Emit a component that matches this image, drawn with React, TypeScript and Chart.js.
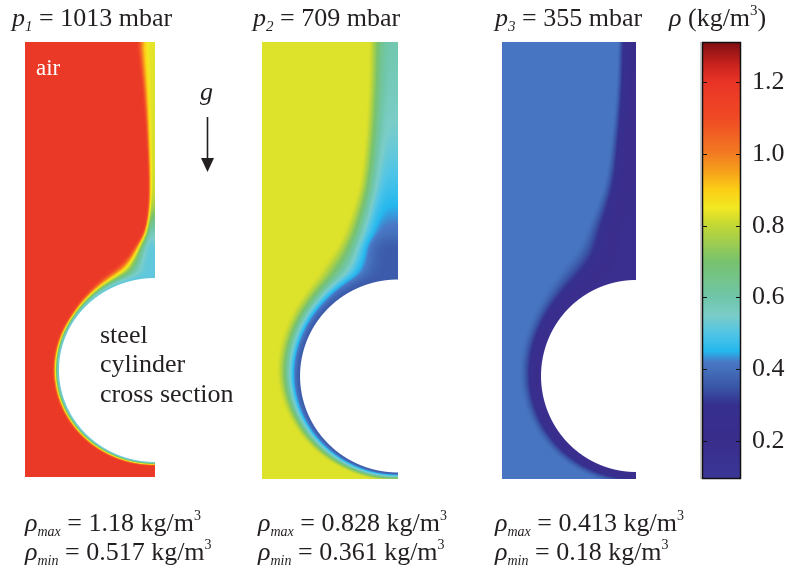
import { useEffect, useRef } from "react";
import { Chart, registerables } from "chart.js";

Chart.register(...registerables);

// ---------- data ----------
const panelPressures = [1013, 709, 355]; // mbar
const panelRhoMax = [1.18, 0.828, 0.413]; // kg/m^3
const panelRhoMin = [0.517, 0.361, 0.18]; // kg/m^3

const colorbarTicks = [0.2, 0.4, 0.6, 0.8, 1.0, 1.2];
const colorbarMin = 0.094;
const colorbarMax = 1.312;

// colormap stops (density -> colour)
const cmapValues = [0.094, 0.2, 0.3, 0.35, 0.4, 0.42, 0.45, 0.5, 0.55, 0.6, 0.7, 0.8, 0.85, 0.9, 0.95, 1.0, 1.1, 1.2, 1.25, 1.312];
const cmapColors = ["#3b3898", "#3a2d8c", "#36308f", "#3a56a6", "#4470bc", "#4a78c6", "#25b8ee", "#52c5e6", "#7bcdc8", "#70c6aa", "#78c26e", "#c2d836", "#f2e922", "#fccf16", "#f7a21b", "#f37c22", "#f04a25", "#ea3527", "#c8231f", "#7f0f12"];

// geometry in units of the cylinder radius
const panelLeft = [0, 2.469, 4.969];
const panelWall = [1.354, 3.885, 6.365];
const panelTop = [3.479, 3.479, 3.479];
const panelBottom = [-1.052, -1.073, -1.073];
const cylCenterY = [0.0625, 0, 0];
const cylRadiusX = [1.0, 1.02, 0.99];
const cylRadiusY = [0.958, 1.005, 1.0];
const colorbarLeft = 7.052;
const colorbarRight = 7.458;

// thermal boundary layer thickness around the cylinder (angle in degrees, -90 = bottom)
const layerAngles = [-90, -60, -30, 0, 30, 45, 60, 75, 90];
const layerThickness = [
  [0.05, 0.06, 0.07, 0.075, 0.075, 0.1, 0.15, 0.2, 0.25],
  [0.09, 0.12, 0.18, 0.24, 0.27, 0.3, 0.36, 0.4, 0.45],
  [0.14, 0.17, 0.21, 0.24, 0.27, 0.31, 0.37, 0.42, 0.45],
];

// plume along the symmetry axis (height above cylinder centre)
const plumeHeights = [1.0, 1.15, 1.3, 1.5, 1.8, 2.0, 2.5, 3.0, 3.5];
const plumeWidth = [
  [0.45, 0.36, 0.26, 0.14, 0.085, 0.08, 0.1, 0.14, 0.2],
  [0.6, 0.65, 0.62, 0.55, 0.45, 0.4, 0.34, 0.31, 0.3],
  [0.68, 0.65, 0.6, 0.54, 0.42, 0.35, 0.27, 0.22, 0.2],
];
const plumeAmplitude = [
  [1, 1, 1, 0.9, 0.62, 0.56, 0.54, 0.53, 0.52],
  [1, 1, 1, 0.9, 0.8, 0.74, 0.62, 0.55, 0.5],
  [1, 1, 1, 1, 0.95, 0.93, 0.9, 0.87, 0.85],
];

// ---------- helpers ----------
const SERIF = '"Liberation Serif", "DejaVu Serif", serif';
const INK = "#231f20";

function hexToRgb(h: string): number[] {
  const n = parseInt(h.slice(1), 16);
  return [(n >> 16) & 255, (n >> 8) & 255, n & 255];
}
const cmapRgb = cmapColors.map(hexToRgb);

// monotone cubic (Fritsch-Carlson) interpolation of a table
function makeSpline(xs: number[], ys: number[]) {
  const n = xs.length;
  const d: number[] = [];
  for (let i = 0; i < n - 1; i++) d.push((ys[i + 1] - ys[i]) / (xs[i + 1] - xs[i]));
  const m: number[] = new Array(n);
  m[0] = d[0];
  m[n - 1] = d[n - 2];
  for (let i = 1; i < n - 1; i++) m[i] = d[i - 1] * d[i] <= 0 ? 0 : (d[i - 1] + d[i]) / 2;
  for (let i = 0; i < n - 1; i++) {
    if (d[i] === 0) {
      m[i] = 0;
      m[i + 1] = 0;
      continue;
    }
    const a = m[i] / d[i], b = m[i + 1] / d[i];
    const s = a * a + b * b;
    if (s > 9) {
      const t = 3 / Math.sqrt(s);
      m[i] = t * a * d[i];
      m[i + 1] = t * b * d[i];
    }
  }
  return (x: number) => {
    if (x <= xs[0]) return ys[0];
    if (x >= xs[n - 1]) return ys[n - 1];
    let i = 0;
    while (x > xs[i + 1]) i++;
    const h = xs[i + 1] - xs[i];
    const t = (x - xs[i]) / h;
    const t2 = t * t, t3 = t2 * t;
    return (2 * t3 - 3 * t2 + 1) * ys[i] + (t3 - 2 * t2 + t) * h * m[i] + (-2 * t3 + 3 * t2) * ys[i + 1] + (t3 - t2) * h * m[i + 1];
  };
}

function cmap(v: number): number[] {
  if (v <= cmapValues[0]) return cmapRgb[0];
  const n = cmapValues.length;
  if (v >= cmapValues[n - 1]) return cmapRgb[n - 1];
  for (let i = 1; i < n; i++) {
    if (v <= cmapValues[i]) {
      const t = (v - cmapValues[i - 1]) / (cmapValues[i] - cmapValues[i - 1]);
      const a = cmapRgb[i - 1], b = cmapRgb[i];
      return [a[0] + (b[0] - a[0]) * t, a[1] + (b[1] - a[1]) * t, a[2] + (b[2] - a[2]) * t];
    }
  }
  return cmapRgb[n - 1];
}

function smooth(x: number): number {
  const t = Math.min(Math.max(x, 0), 1);
  return t * t * (3 - 2 * t);
}

type Seg = { t: string; size: number; italic?: boolean; dy?: number };
function drawRich(ctx: CanvasRenderingContext2D, x: number, y: number, segs: Seg[], color = INK) {
  ctx.save();
  ctx.fillStyle = color;
  ctx.textBaseline = "alphabetic";
  ctx.textAlign = "left";
  let cx = x;
  for (const s of segs) {
    ctx.font = `${s.italic ? "italic " : ""}${s.size}px ${SERIF}`;
    ctx.fillText(s.t, cx, y + (s.dy || 0));
    cx += ctx.measureText(s.t).width;
  }
  ctx.restore();
}

function drawPanel(chart: any, i: number) {
  const ctx: CanvasRenderingContext2D = chart.ctx;
  const xs = chart.scales.x;
  const ys = chart.scales.y;
  const pxL = Math.round(xs.getPixelForValue(panelLeft[i]));
  const pxR = Math.round(xs.getPixelForValue(panelWall[i]));
  const pyT = Math.round(ys.getPixelForValue(panelTop[i]));
  const pyB = Math.round(ys.getPixelForValue(panelBottom[i]));
  const w = pxR - pxL;
  const h = pyB - pyT;
  const rpx = xs.getPixelForValue(cylRadiusX[i]) - xs.getPixelForValue(0);
  const off = document.createElement("canvas");
  off.width = w;
  off.height = h;
  const octx = off.getContext("2d")!;
  const img = octx.createImageData(w, h);
  const rMax = panelRhoMax[i];
  const rMin = panelRhoMin[i];
  const k = 0.2;
  const W1 = plumeWidth[i][0];
  const layerFn = makeSpline(layerAngles, layerThickness[i]);
  const widthFn = makeSpline(plumeHeights, plumeWidth[i]);
  const ampFn = makeSpline(plumeHeights, plumeAmplitude[i]);
  for (let j = 0; j < h; j++) {
    const Y = ys.getValueForPixel(pyT + j + 0.5);
    const vn = (Y - cylCenterY[i]) / cylRadiusY[i];
    const W = widthFn(vn);
    const A = ampFn(vn);
    for (let q = 0; q < w; q++) {
      const X = xs.getValueForPixel(pxL + q + 0.5);
      const un = (panelWall[i] - X) / cylRadiusX[i];
      const r = Math.hypot(un, vn);
      const alpha = Math.min(Math.max((r - 1) * rpx + 0.5, 0), 1);
      const idx = (j * w + q) * 4;
      if (alpha <= 0) {
        img.data[idx + 3] = 0;
        continue;
      }
      const theta = (Math.atan2(vn, un) * 180) / Math.PI;
      const dc = Math.max(r - 1, 0);
      const sc = dc / layerFn(theta);
      const sp = vn >= 1 ? un / W : Math.hypot(un, vn - 1) / W1;
      const s = Math.max(0, -k * Math.log(Math.exp(-sc / k) + Math.exp(-sp / k)));
      const wP = 1 / (1 + Math.exp((sp - sc) / k));
      const amp = 1 + wP * (A - 1);
      const p = 1 + wP;
      const phi = amp * (1 - smooth(Math.pow(s, p)));
      const rho = rMax - (rMax - rMin) * phi;
      const c = cmap(rho);
      img.data[idx] = c[0];
      img.data[idx + 1] = c[1];
      img.data[idx + 2] = c[2];
      img.data[idx + 3] = Math.round(alpha * 255);
    }
  }
  octx.putImageData(img, 0, 0);
  ctx.drawImage(off, pxL, pyT);
}

function drawColorbar(chart: any) {
  const ctx: CanvasRenderingContext2D = chart.ctx;
  const xs = chart.scales.x;
  const cb = chart.scales.cb;
  const x0 = Math.round(xs.getPixelForValue(colorbarLeft));
  const x1 = Math.round(xs.getPixelForValue(colorbarRight));
  const y0 = Math.round(cb.getPixelForValue(colorbarMax));
  const y1 = Math.round(cb.getPixelForValue(colorbarMin));
  for (let py = y0; py < y1; py++) {
    const c = cmap(cb.getValueForPixel(py + 0.5));
    ctx.fillStyle = `rgb(${c[0] | 0},${c[1] | 0},${c[2] | 0})`;
    ctx.fillRect(x0, py, x1 - x0, 1);
  }
  ctx.save();
  ctx.fillStyle = "#c8c8c8";
  ctx.fillRect(x0 - 2, y0, 1.5, y1 - y0);
  ctx.strokeStyle = "#111";
  ctx.lineWidth = 1.5;
  ctx.strokeRect(x0 + 0.5, y0 + 0.5, x1 - x0 - 1, y1 - y0 - 1);
  ctx.lineWidth = 1.2;
  for (const t of cb.ticks) {
    const y = Math.round(cb.getPixelForValue(t.value)) + 0.5;
    ctx.beginPath();
    ctx.moveTo(x0, y);
    ctx.lineTo(x0 + 5, y);
    ctx.moveTo(x1, y);
    ctx.lineTo(x1 - 5, y);
    ctx.stroke();
  }
  ctx.restore();
}

function drawTexts(chart: any) {
  const ctx: CanvasRenderingContext2D = chart.ctx;
  const titleX = [12, 253, 495];
  const subs = ["1", "2", "3"];
  for (let i = 0; i < 3; i++) {
    drawRich(ctx, titleX[i], 26, [
      { t: "p", size: 26, italic: true },
      { t: subs[i], size: 15, italic: true, dy: 5 },
      { t: ` = ${panelPressures[i]} mbar`, size: 26 },
    ]);
  }
  drawRich(ctx, 669, 26, [
    { t: "ρ", size: 26, italic: true },
    { t: " (kg/m", size: 26 },
    { t: "3", size: 15, dy: -11 },
    { t: ")", size: 26 },
  ]);
  // bottom min / max values
  const colX = [25, 258, 495];
  for (let i = 0; i < 3; i++) {
    drawRich(ctx, colX[i], 531, [
      { t: "ρ", size: 26, italic: true },
      { t: "max", size: 14, italic: true, dy: 5 },
      { t: ` = ${panelRhoMax[i]} kg/m`, size: 26 },
      { t: "3", size: 14, dy: -11 },
    ]);
    drawRich(ctx, colX[i], 560, [
      { t: "ρ", size: 26, italic: true },
      { t: "min", size: 14, italic: true, dy: 5 },
      { t: ` = ${panelRhoMin[i]} kg/m`, size: 26 },
      { t: "3", size: 14, dy: -11 },
    ]);
  }
  drawRich(ctx, 36, 75, [{ t: "air", size: 23 }], "#ffffff");
  drawRich(ctx, 200, 100, [{ t: "g", size: 26, italic: true }]);
  drawRich(ctx, 100, 343, [{ t: "steel", size: 26 }]);
  drawRich(ctx, 100, 372, [{ t: "cylinder", size: 26 }]);
  drawRich(ctx, 100, 402, [{ t: "cross section", size: 26 }]);
  // gravity arrow
  ctx.save();
  ctx.strokeStyle = INK;
  ctx.fillStyle = INK;
  ctx.lineWidth = 1.6;
  ctx.beginPath();
  ctx.moveTo(207.5, 117);
  ctx.lineTo(207.5, 160);
  ctx.stroke();
  ctx.beginPath();
  ctx.moveTo(201, 158);
  ctx.lineTo(214, 158);
  ctx.lineTo(207.5, 172);
  ctx.closePath();
  ctx.fill();
  ctx.restore();
}

const fieldPlugin = {
  id: "densityField",
  beforeDraw(chart: any) {
    const ctx: CanvasRenderingContext2D = chart.ctx;
    ctx.save();
    ctx.fillStyle = "#ffffff";
    ctx.fillRect(0, 0, chart.width, chart.height);
    ctx.restore();
  },
  afterDraw(chart: any) {
    for (let i = 0; i < panelPressures.length; i++) drawPanel(chart, i);
    drawColorbar(chart);
    drawTexts(chart);
  },
};

export default function App() {
  const ref = useRef<HTMLCanvasElement | null>(null);
  useEffect(() => {
    document.body.style.margin = "0";
    const canvas = ref.current!;
    const chart = new Chart(canvas, {
      type: "scatter",
      data: { datasets: [{ data: [], showLine: false }] },
      options: {
        animation: false,
        responsive: true,
        maintainAspectRatio: false,
        layout: { padding: { left: 25, top: 42, bottom: 92, right: 0 } },
        plugins: { legend: { display: false }, tooltip: { enabled: false } },
        scales: {
          x: { type: "linear", min: 0, max: colorbarRight, display: false },
          y: { type: "linear", min: -1.073, max: 3.479, display: false },
          cb: {
            type: "linear",
            position: "right",
            min: colorbarMin,
            max: colorbarMax,
            grid: { display: false, drawTicks: false },
            border: { display: false },
            afterBuildTicks: (s: any) => {
              s.ticks = colorbarTicks.map((v) => ({ value: v }));
            },
            afterFit: (s: any) => {
              s.width = 46;
            },
            ticks: {
              padding: 11,
              color: INK,
              font: { family: SERIF, size: 26 },
              callback: (v: any) => Number(v).toFixed(1),
            },
          },
        },
      },
      plugins: [fieldPlugin],
    });
    return () => chart.destroy();
  }, []);
  return (
    <div style={{ position: "absolute", left: 0, top: 0, width: 787, height: 571 }}>
      <canvas ref={ref} />
    </div>
  );
}
